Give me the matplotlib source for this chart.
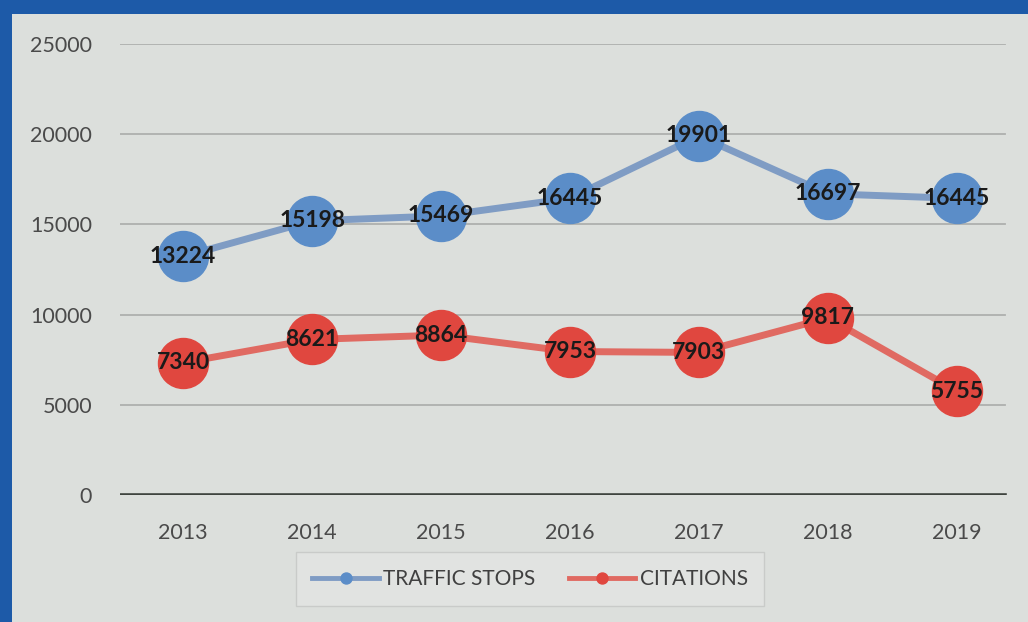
import matplotlib.pyplot as plt
from matplotlib.patches import Rectangle

years = ["2013", "2014", "2015", "2016", "2017", "2018", "2019"]
stops = [13224, 15198, 15469, 16445, 19901, 16697, 16445]
citations = [7340, 8621, 8864, 7953, 7903, 9817, 5755]
yticks = [0, 5000, 10000, 15000, 20000, 25000]

plt.rcParams['font.family'] = ['Lato', 'DejaVu Sans']

fig = plt.figure(figsize=(10.28, 6.22), dpi=100)
fig.patch.set_facecolor("#1d5aa8")
# inner chart panel
fig.patches.append(Rectangle((12/1028, 0), 1 - 12/1028, 1 - 14/622,
                             transform=fig.transFigure, facecolor="#dcdfdc",
                             edgecolor="none", zorder=-5))

ax = fig.add_axes([120/1028, 1 - 495/622, 900/1028, 451/622])
ax.set_facecolor("none")
x = list(range(len(years)))

ax.plot(x, stops, color="#7f9cc4", lw=5, marker="o", ms=36,
        mfc="#5b8dc8", mec="#5b8dc8", label="TRAFFIC STOPS", zorder=3)
ax.plot(x, citations, color="#e06a62", lw=5, marker="o", ms=36,
        mfc="#e0473f", mec="#e0473f", label="CITATIONS", zorder=3)

for i in x:
    ax.text(i, stops[i], str(stops[i]), ha="center", va="center",
            fontsize=16.5, fontweight="bold", color="#1a1a1a", zorder=4)
    ax.text(i, citations[i], str(citations[i]), ha="center", va="center",
            fontsize=16.5, fontweight="bold", color="#1a1a1a", zorder=4)

ax.set_xlim(-0.49, 6.49)
ax.set_ylim(0, 25000)
ax.set_yticks(yticks)
ax.set_xticks(x)
ax.set_xticklabels(years)
ax.tick_params(length=0, labelsize=15.5, colors="#4a4a4a")
ax.tick_params(axis="y", pad=20)
ax.tick_params(axis="x", pad=20)
for t in yticks[1:]:
    ax.axhline(t, xmin=0, xmax=0.983, color="#aeb0ae", lw=1.3, zorder=1)
ax.axhline(0, xmin=0, xmax=0.983, color="#3f443f", lw=2.6, zorder=2)
for s in ax.spines.values():
    s.set_visible(False)

leg = fig.legend(loc="center", bbox_to_anchor=(530/1028, 1 - 579/622), ncol=2,
                 fontsize=15, frameon=True, handlelength=3.2, markerscale=0.22,
                 columnspacing=1.6, handletextpad=0.2, borderpad=0.5)
leg.get_frame().set_facecolor("#e3e5e3")
leg.get_frame().set_edgecolor("#c4c6c4")
leg.get_frame().set_boxstyle("square")
for h in leg.legend_handles:
    h.set_linewidth(3.5)
for t in leg.get_texts():
    t.set_color("#404040")

fig.savefig("out.png", dpi=100, facecolor=fig.get_facecolor())
